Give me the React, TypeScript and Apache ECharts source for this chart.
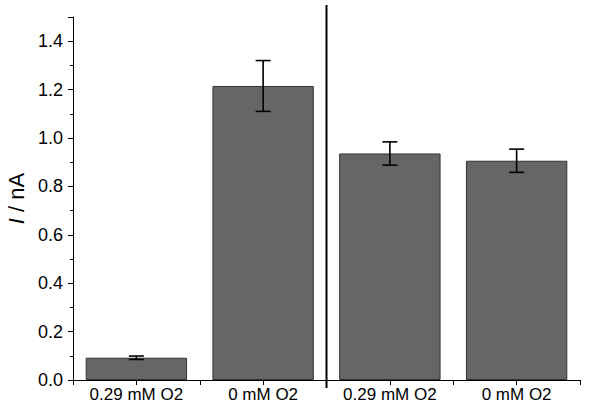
import React, { useEffect, useRef } from "react";
import * as echarts from "echarts";

const categories = ["0.29 mM O2", "0 mM O2", "0.29 mM O2", "0 mM O2"];
const values = [0.092, 1.215, 0.936, 0.906];
const errors = [0.007, 0.105, 0.048, 0.048];
const yTicks = { min: 0, max: 1.5, interval: 0.2 };

export default function App() {
  const ref = useRef<HTMLDivElement>(null);
  useEffect(() => {
    if (!ref.current) return;
    const chart = echarts.init(ref.current, null, { renderer: "svg" });
    const font = "'Liberation Sans', Arial, Helvetica, sans-serif";
    const errData = values.map((v, i) => [i, v - errors[i], v + errors[i]]);
    chart.setOption({
      animation: false,
      backgroundColor: "#fff",
      grid: { left: 73, right: 20, top: 17, bottom: 29, outerBoundsMode: "none", containLabel: false },
      xAxis: [
        {
          type: "category",
          data: categories,
          axisLine: { lineStyle: { color: "#000", width: 1 } },
          axisTick: { show: true, inside: false, length: 5, lineStyle: { color: "#000" } },
          axisLabel: { color: "#000", fontSize: 17, fontFamily: font, margin: 6, interval: 0 },
        },
        {
          type: "category",
          data: categories,
          position: "bottom",
          axisLine: { show: false },
          axisTick: { show: true, alignWithLabel: true, length: 5, lineStyle: { color: "#000" } },
          axisLabel: { show: false },
        },
      ],
      yAxis: {
        type: "value",
        min: 0,
        max: yTicks.max,
        interval: yTicks.interval,
        name: "{i|I} / nA",
        nameLocation: "middle",
        nameGap: 46,
        nameTextStyle: {
          color: "#000",
          fontSize: 22,
          fontFamily: font,
          rich: { i: { fontStyle: "italic", fontSize: 22, fontFamily: font, color: "#000" } },
        },
        axisLine: { show: true, lineStyle: { color: "#000", width: 1 } },
        axisTick: { show: true, length: 5, lineStyle: { color: "#000" } },
        minorTick: { show: true, splitNumber: 2, length: 3, lineStyle: { color: "#000" } },
        splitLine: { show: false },
        axisLabel: {
          color: "#000",
          fontSize: 18,
          fontFamily: font,
          margin: 10,
          formatter: (v: number) => (v > 1.45 ? "" : v.toFixed(1)),
        },
      },
      series: [
        {
          type: "bar",
          data: values,
          barWidth: "80%",
          itemStyle: { color: "#666666", borderColor: "#333", borderWidth: 1 },
        },
        {
          type: "custom",
          data: errData,
          z: 5,
          renderItem: (params: any, api: any) => {
            const i = api.value(0);
            const lo = api.coord([i, api.value(1)]);
            const hi = api.coord([i, api.value(2)]);
            const x = lo[0];
            const w = 7.5;
            const style = { stroke: "#000", lineWidth: 1.6 };
            return {
              type: "group",
              children: [
                { type: "line", shape: { x1: x, y1: lo[1], x2: x, y2: hi[1] }, style },
                { type: "line", shape: { x1: x - w, y1: lo[1], x2: x + w, y2: lo[1] }, style },
                { type: "line", shape: { x1: x - w, y1: hi[1], x2: x + w, y2: hi[1] }, style },
              ],
            };
          },
        },
        {
          type: "custom",
          data: [[1, 2]],
          clip: false,
          z: 6,
          renderItem: (params: any, api: any) => {
            const a = api.coord([api.value(0), 0]);
            const b = api.coord([api.value(1), 0]);
            const top = api.coord([0, yTicks.max]);
            const x = (a[0] + b[0]) / 2;
            return {
              type: "line",
              shape: { x1: x, y1: top[1] - 12, x2: x, y2: a[1] + 8 },
              style: { stroke: "#000", lineWidth: 2 },
            };
          },
        },
      ],
    });
    return () => chart.dispose();
  }, []);
  return <div ref={ref} style={{ width: 600, height: 409, position: "fixed", left: 0, top: 0 }} />;
}
